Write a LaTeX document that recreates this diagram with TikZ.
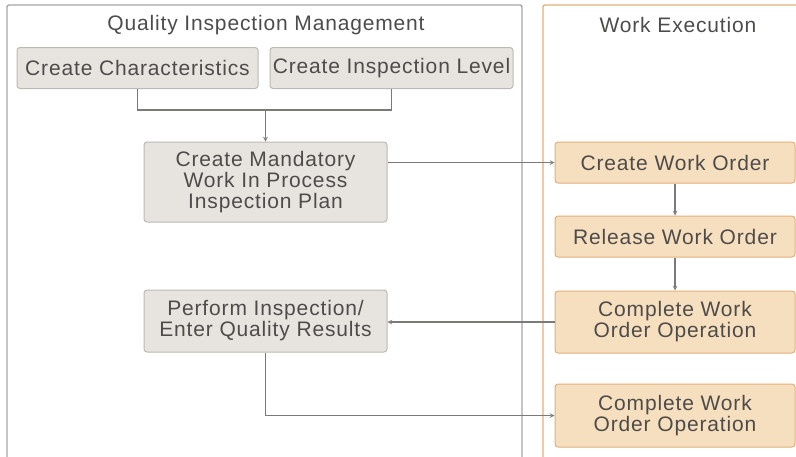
\documentclass[tikz,border=0pt]{standalone}
\usepackage{fontspec}
\setmainfont{Liberation Sans}[LetterSpace=4]
\usepackage{tikz}

\definecolor{txtgray}{HTML}{4E4C4A}
\definecolor{linegray}{HTML}{7C7A78}
\definecolor{boxfill}{HTML}{E7E4E0}
\definecolor{boxline}{HTML}{BCB9B5}
\definecolor{ordfill}{HTML}{F6DFBE}
\definecolor{ordline}{HTML}{E2B07A}
\definecolor{lanegray}{HTML}{A8A6A4}

\tikzset{
	qbox/.style={draw=boxline, line width=1pt, fill=boxfill, rectangle, rounded corners=3pt, align=center, text=txtgray, inner sep=0pt},
	wbox/.style={draw=ordline, line width=1pt, fill=ordfill, rectangle, rounded corners=3pt, align=center, text=txtgray, inner sep=0pt},
	lanetitle/.style={text=txtgray, inner sep=0pt},
	flow/.style={draw=linegray, line width=1.1pt}
}

\begin{document}
\begin{tikzpicture}[x=1pt, y=-1pt, font=\fontsize{21}{21}\selectfont]
				\useasboundingbox (0,0) rectangle (796,456);
				% lanes
				\draw[lanegray, line width=1.4pt, rounded corners=2pt] (7,5) rectangle (522,462);
				\draw[ordline, line width=1.4pt, rounded corners=2pt] (543,5) rectangle (806,462);
				\node[lanetitle] (qim) at (266,25) {Quality Inspection Management};
				\node[lanetitle] (wex) at (678,25) {Work Execution};
				% quality boxes
				\node[qbox, minimum width=241pt, minimum height=41pt] (CC) at (137.5,68) {Create Characteristics};
				\node[qbox, minimum width=243pt, minimum height=41pt] (IL) at (391.5,68) {Create Inspection Level};
				\node[qbox, minimum width=243pt, minimum height=80pt] (Plan) at (265.5,182) {Create Mandatory\\Work In Process\\Inspection Plan};
				\node[qbox, minimum width=243pt, minimum height=62pt] (Perf) at (265.5,321) {Perform Inspection/\\Enter Quality Results};
				% work order boxes
				\node[wbox, minimum width=240pt, minimum height=41pt] (CWO) at (675,162.5) {Create Work Order};
				\node[wbox, minimum width=240pt, minimum height=41pt] (RWO) at (675,236.5) {Release Work Order};
				\node[wbox, minimum width=240pt, minimum height=62pt] (OpA) at (675,322) {Complete Work\\Order Operation};
				\node[wbox, minimum width=240pt, minimum height=63pt] (OpB) at (675,415.5) {Complete Work\\Order Operation};
				\coordinate (join) at (265.5,110);
				% connectors
				\draw[flow] (CC.south) |- (join) -| (IL.south);
				\draw[flow, ->, >=stealth] (join) -- (Plan.north);
				\draw[flow, ->, >=stealth] (Plan.east |- CWO) -- (CWO.west);
				\draw[flow, ->, >=stealth] (CWO) -- (RWO);
				\draw[flow, ->, >=stealth] (RWO) -- (OpA);
				\draw[flow, ->, >=stealth] (OpA.west) -- (OpA.west -| Perf.east);
				\draw[flow, ->, >=stealth] (Perf.south) |- (OpB.west);
			\end{tikzpicture}
\end{document}
